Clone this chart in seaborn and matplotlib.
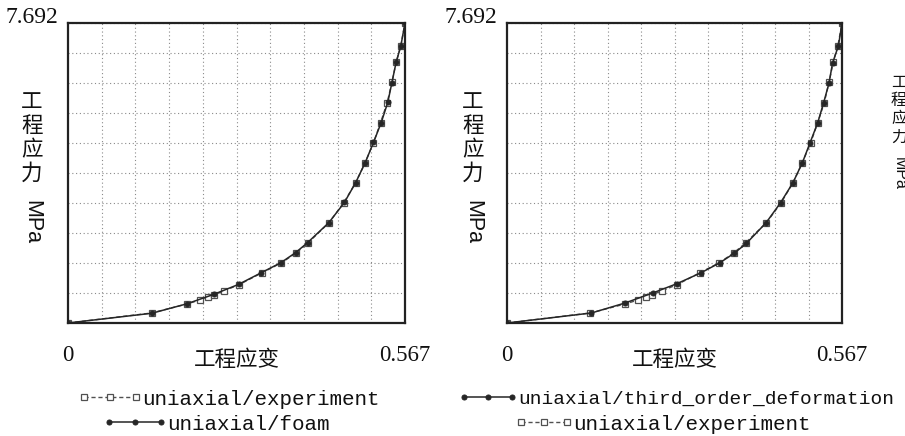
import matplotlib
matplotlib.use('Agg')
import numpy as np
import matplotlib.pyplot as plt
import seaborn as sns

sns.set_theme(style='white')
plt.rcParams['font.family'] = ['Noto Sans CJK SC', 'DejaVu Sans']

# ---------------- data ----------------
x_max = 0.567
y_max = 7.692

exp_strain = [0.0, 0.141, 0.200, 0.222, 0.236, 0.246, 0.262, 0.288, 0.326, 0.359,
              0.384, 0.404, 0.439, 0.464, 0.484, 0.500, 0.514, 0.526, 0.537,
              0.545, 0.552, 0.560, 0.567]
exp_stress = [0.0, 0.257, 0.488, 0.590, 0.660, 0.728, 0.820, 0.985, 1.285, 1.542,
              1.799, 2.056, 2.570, 3.084, 3.598, 4.112, 4.625, 5.139, 5.653,
              6.167, 6.681, 7.110, 7.692]

foam_strain = [0.0, 0.141, 0.200, 0.245, 0.287, 0.324, 0.358, 0.383, 0.403,
               0.439, 0.465, 0.484, 0.500, 0.514, 0.527, 0.538, 0.545, 0.552,
               0.560, 0.567]
foam_stress = [0.0, 0.250, 0.492, 0.733, 0.990, 1.280, 1.545, 1.805, 2.060,
               2.575, 3.090, 3.600, 4.110, 4.630, 5.140, 5.655, 6.165, 6.680,
               7.105, 7.692]

third_strain = [0.0, 0.143, 0.200, 0.247, 0.288, 0.328, 0.360, 0.384, 0.405,
                0.4385, 0.463, 0.484, 0.500, 0.513, 0.526, 0.536, 0.545, 0.551,
                0.561, 0.567]
third_stress = [0.0, 0.257, 0.514, 0.771, 1.011, 1.285, 1.542, 1.782, 2.039,
                2.570, 3.084, 3.598, 4.112, 4.625, 5.139, 5.653, 6.150, 6.664,
                7.110, 7.692]

x_tick_labels = ['0', '0.567']
y_tick_label = '7.692'
x_label = '工程应变'
y_label_chars = ['工', '程', '应', '力']
y_label_unit = 'MPa'
label_exp = 'uniaxial/experiment'
label_foam = 'uniaxial/foam'
label_third = 'uniaxial/third_order_deformation'

# ---------------- layout ----------------
W, H = 905, 436
fig = plt.figure(figsize=(W / 100, H / 100), dpi=100)
fig.patch.set_facecolor('white')


def fx(px):
    return px / W


def fy(py):
    return 1 - py / H


ax1 = fig.add_axes([fx(68), fy(323), (405 - 68) / W, (323 - 23) / H])
ax2 = fig.add_axes([fx(507), fy(323), (842 - 507) / W, (323 - 23) / H])

line_col = '#262626'
exp_col = '#505050'
serif = 'Liberation Serif'
mono = 'Liberation Mono'


def style_axes(ax):
    ax.set_xlim(0, x_max)
    ax.set_ylim(0, y_max)
    ax.set_xticks(np.linspace(0, x_max, 11), minor=True)
    ax.set_yticks(np.linspace(0, y_max, 11), minor=True)
    ax.set_xticks([0, x_max])
    ax.set_xticklabels(x_tick_labels, fontfamily=serif, fontsize=16.5, color='#111111')
    ax.set_yticks([])
    ax.tick_params(axis='both', which='both', length=0)
    ax.tick_params(axis='x', pad=16)
    ax.grid(which='minor', color='#8a8a8a', linestyle=(0, (1, 2.4)), linewidth=0.8)
    ax.grid(which='major', visible=False)
    for s in ax.spines.values():
        s.set_visible(True)
        s.set_color('#222222')
        s.set_linewidth(1.6)
    ax.set_xlabel('')
    ax.set_ylabel('')
    ax.text(-0.03, y_max, y_tick_label, transform=ax.get_yaxis_transform(),
            ha='right', va='baseline', fontfamily=serif, fontsize=17, color='#111111')
    ax.text(0.5, -0.123, x_label, transform=ax.transAxes, ha='center', va='center',
            fontsize=15.5, color='#111111')


def draw_exp(ax):
    sns.lineplot(x=exp_strain, y=exp_stress, ax=ax, sort=False, color=exp_col,
                 linestyle=(0, (3, 2)), linewidth=1.0, marker='s', markersize=4.5,
                 markerfacecolor='white', markeredgecolor=exp_col, markeredgewidth=0.9)
    return ax.get_lines()[-1]


def draw_model(ax, xs, ys):
    sns.lineplot(x=xs, y=ys, ax=ax, sort=False, color=line_col, linewidth=1.1,
                 marker='o', markersize=3.6, markerfacecolor=line_col,
                 markeredgecolor=line_col)
    return ax.get_lines()[-1]


h_exp1 = draw_exp(ax1)
h_foam = draw_model(ax1, foam_strain, foam_stress)
h_exp2 = draw_exp(ax2)
h_third = draw_model(ax2, third_strain, third_stress)

style_axes(ax1)
style_axes(ax2)


def add_leg(handle, label, x_px, y_px, size, hl):
    fig.legend([handle], [label], loc='center left',
               bbox_to_anchor=(fx(x_px), fy(y_px)), frameon=False,
               prop={'family': mono, 'size': size, 'weight': 'normal'},
               handlelength=hl, handletextpad=0.0, borderpad=0,
               borderaxespad=0, numpoints=3, labelcolor='#111111')


add_leg(h_exp1, label_exp, 78, 399, 15.0, 3.1)
add_leg(h_foam, label_foam, 103, 424, 15.0, 3.1)
add_leg(h_third, label_third, 458, 399, 14.0, 3.1)
add_leg(h_exp2, label_exp, 515, 424, 15.0, 2.8)


def add_ylabel(x_px, centers, unit_center, size):
    for ch, yc in zip(y_label_chars, centers):
        fig.text(fx(x_px), fy(yc), ch, ha='center', va='center', fontsize=size,
                 color='#111111')
    fig.text(fx(x_px), fy(unit_center), y_label_unit, ha='center', va='center',
             rotation=270, fontsize=size, fontfamily='Liberation Sans', color='#111111')


add_ylabel(32, [102, 126, 150, 174], 222, 15.5)
add_ylabel(473, [102, 126, 150, 174], 222, 15.5)
add_ylabel(899, [82, 100, 118, 137], 173, 11.5)

fig.savefig('out.png', dpi=100, facecolor='white')
